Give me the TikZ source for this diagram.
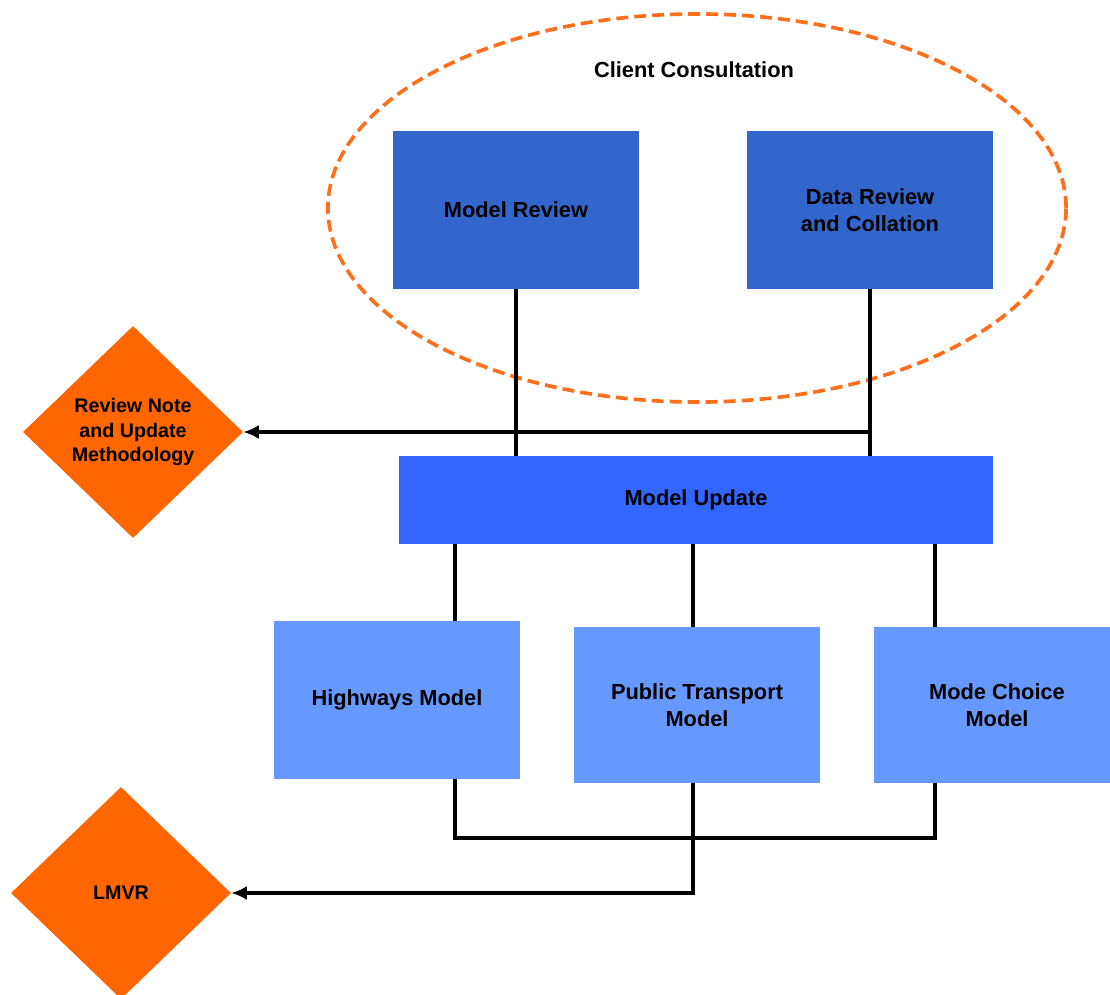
\documentclass[tikz,border=0pt]{standalone}
\usepackage{fontspec}
\setmainfont{Liberation Sans}
\usetikzlibrary{shapes.geometric,arrows.meta}
\definecolor{reviewblue}{HTML}{3366CC}
\definecolor{updateblue}{HTML}{3366FF}
\definecolor{subblue}{HTML}{6699FF}
\definecolor{outorange}{HTML}{FF6600}
\definecolor{consultorange}{HTML}{FF6E1A}
\begin{document}
\begin{tikzpicture}[x=0.025cm,y=-0.025cm,
        every node/.style={font=\bfseries\fontsize{15.5}{19}\selectfont,align=center},
        stagebox/.style={rectangle,fill=subblue,inner sep=0pt,minimum width=6.15cm,minimum height=3.925cm},
        outcome/.style={diamond,fill=outorange,inner sep=0pt,minimum width=5.5cm,minimum height=5.3cm,
            font=\bfseries\fontsize{14}{17.5}\selectfont},
        link/.style={line width=2.9pt},
        feed/.style={link,-{Latex[length=11pt,width=10pt]}},
        consult/.style={draw=consultorange,line width=2.6pt,dash pattern=on 8.5pt off 4.3pt}]
        \useasboundingbox (0,0) rectangle (1110,994);
        % client consultation ring
        \draw[consult] (697,208) ellipse [x radius=9.225cm,y radius=4.85cm];
        \node (consultation) at (694,70) {Client Consultation};
        \node[stagebox,fill=reviewblue] (modelreview) at (516,210) {Model Review};
        \node[stagebox,fill=reviewblue] (datareview) at (870,210) {Data Review\\and Collation};
        \node[rectangle,fill=updateblue,inner sep=0pt,minimum width=14.825cm,minimum height=2.175cm] (update) at (696,500) {Model Update};
        % sub models
        \node[stagebox] (highways) at (397,700) {Highways Model};
        \node[stagebox,minimum height=3.875cm] (public) at (697,705) {Public Transport\\Model};
        \node[stagebox,minimum height=3.875cm] (mode) at (997,705) {Mode Choice\\Model};
        % outcomes
        \node[outcome] (note) at (133,432) {Review Note\\and Update\\Methodology};
        \node[outcome] (lmvr) at (121,893) {LMVR};
        \coordinate (hwtap) at (455,0);
        \coordinate (pttap) at (693,0);
        \coordinate (mdtap) at (935,0);
        \coordinate (bus) at (0,838);
        \draw[link] (modelreview.south) -- (modelreview.south |- update.north);
        \draw[link] (datareview.south) -- (datareview.south |- update.north);
        \draw[feed] (datareview.south |- note.east) -- (note.east);
        \foreach \tap/\sub in {hwtap/highways,pttap/public,mdtap/mode}
        {
            \draw[link] (\tap |- update.south) -- (\tap |- \sub.north);
        }
        \draw[link] (hwtap |- highways.south) -- (hwtap |- bus) -- (mdtap |- bus) -- (mdtap |- mode.south);
        \draw[feed] (pttap |- public.south) -- (pttap |- lmvr.east) -- (lmvr.east);
    \end{tikzpicture}
\end{document}
